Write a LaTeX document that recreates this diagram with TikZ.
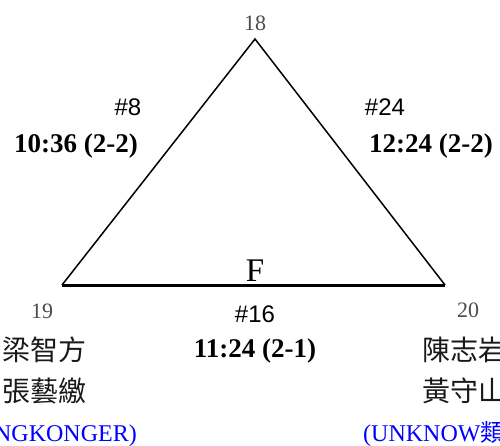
\documentclass[tikz,border=0pt]{standalone}
\usepackage{fontspec}
\setmainfont{Liberation Serif}
\newfontfamily\cjk{Noto Sans CJK TC}
\newfontfamily\arialf{Liberation Sans}
\begin{document}
\begin{tikzpicture}[x=1pt,y=-1pt,
  vlabel/.style={inner sep=0pt,anchor=base,text=black!70,font=\fontsize{22}{24}\selectfont},
  numlabel/.style={inner sep=0pt,anchor=base,font=\arialf\fontsize{24}{26}\selectfont},
  timelabel/.style={inner sep=0pt,anchor=base,font=\bfseries\fontsize{27}{29}\selectfont},
  namelabel/.style={inner sep=0pt,font=\cjk\fontsize{28}{30}\selectfont,text=black!90},
  teamlabel/.style={inner sep=0pt,anchor=base,text=blue,font=\fontsize{24}{26}\selectfont},
  side/.style={line width=1.5pt},
  base/.style={line width=3pt}]
\useasboundingbox (0,0) rectangle (500,445);
\clip (0,0) rectangle (500,445);
\coordinate (t) at (255,39);
\coordinate (l) at (62,285);
\coordinate (r) at (445,285);
\draw[side] (l) -- (t) -- (r);
\draw[base] (l) -- (r);
\node[vlabel] (n18) at (255,30) {18};
\node[vlabel] (n19) at (42,318) {19};
\node[vlabel] (n20) at (468,317) {20};
\node[inner sep=0pt,anchor=base,font=\fontsize{33}{35}\selectfont] (f) at (255,281) {F};
\node[numlabel] (g8) at (128,115) {\#8};
\node[timelabel] (t8) at (76,152) {10:36 (2-2)};
\node[numlabel] (g24) at (385,115) {\#24};
\node[timelabel] (t24) at (431,152) {12:24 (2-2)};
\node[numlabel] (g16) at (255,322) {\#16};
\node[timelabel] (t16) at (255,357) {11:24 (2-1)};
\node[namelabel,anchor=east] (a1) at (87,350) {梁智方};
\node[namelabel,anchor=east] (a2) at (87,391) {張藝繳};
\node[teamlabel,anchor=base east] (a3) at (137,441) {(HONGKONGER)};
\node[namelabel,anchor=west] (b1) at (422,350) {陳志岩};
\node[namelabel,anchor=west] (b2) at (422,391) {黃守山};
\node[teamlabel,anchor=base west] (b3) at (363,441) {(UNKNOW{\cjk 類})};
\end{tikzpicture}
\end{document}
